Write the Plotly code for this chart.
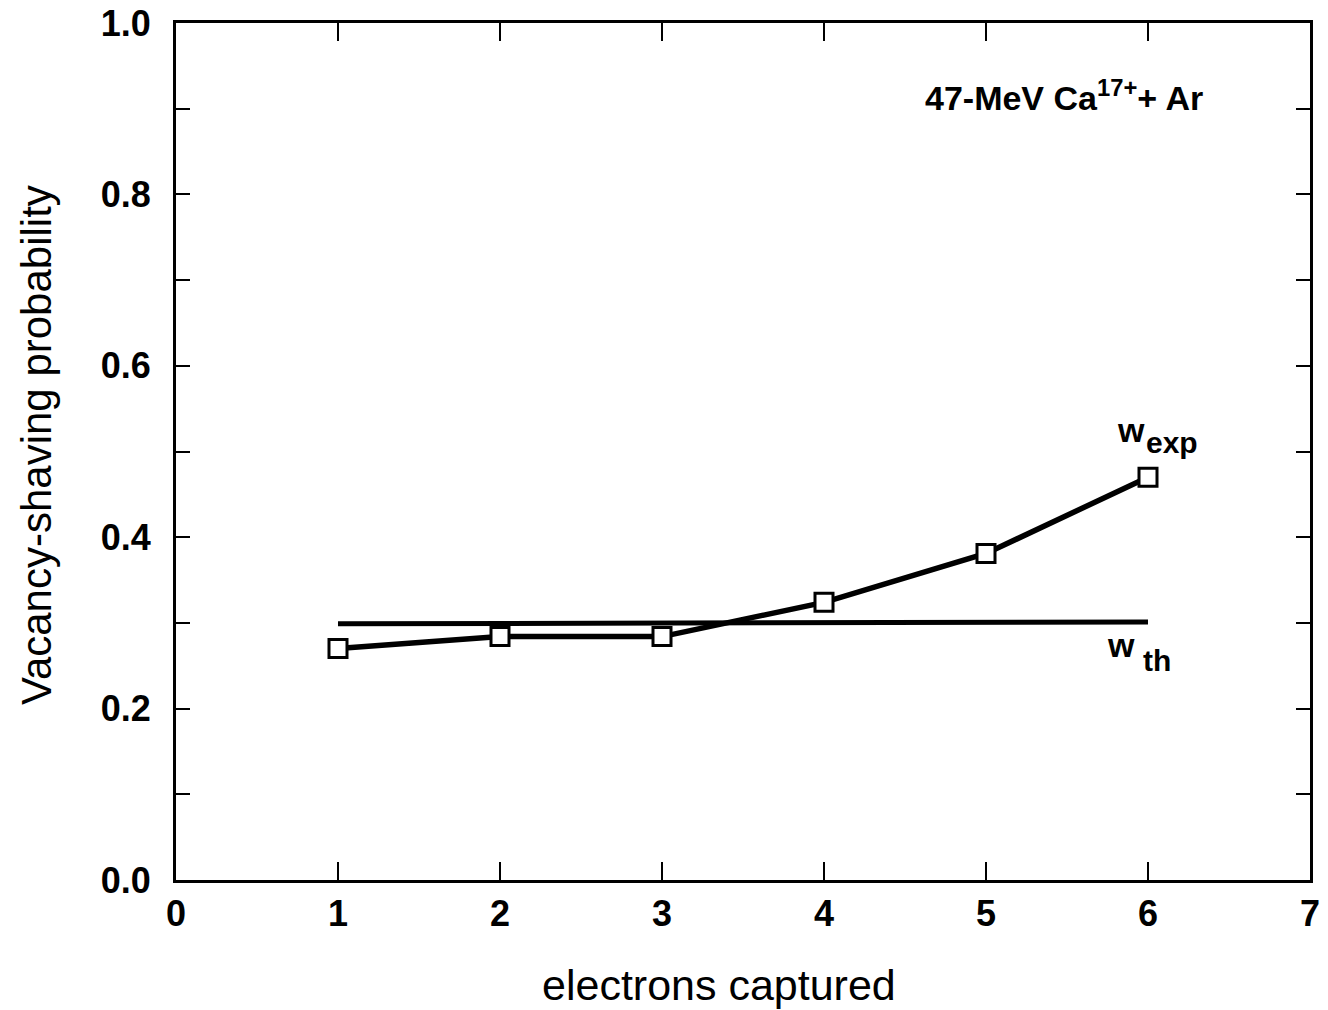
import plotly.graph_objects as go

# electrons captured (x) and vacancy-shaving probabilities
electrons = [1, 2, 3, 4, 5, 6]
w_exp = [0.270, 0.284, 0.284, 0.324, 0.381, 0.470]
w_th_x = [1, 6]
w_th = [0.299, 0.301]

x_ticks = [0, 1, 2, 3, 4, 5, 6, 7]
y_ticks = [0.0, 0.1, 0.2, 0.3, 0.4, 0.5, 0.6, 0.7, 0.8, 0.9, 1.0]
y_labels = ["0.0", "", "0.2", "", "0.4", "", "0.6", "", "0.8", "", "1.0"]

FONT = "Liberation Sans, Arial, Helvetica, sans-serif"

fig = go.Figure()

fig.add_trace(go.Scatter(
    x=w_th_x, y=w_th, mode="lines",
    line=dict(color="black", width=5),
    showlegend=False,
))

fig.add_trace(go.Scatter(
    x=electrons, y=w_exp, mode="lines+markers",
    line=dict(color="black", width=5.5),
    marker=dict(symbol="square", size=18, color="white",
                line=dict(color="black", width=3)),
    showlegend=False,
))

axis_common = dict(
    showgrid=False, zeroline=False, automargin=False,
    showline=True, linecolor="black", linewidth=3,
    mirror="allticks", ticks="inside",
    tickcolor="black", tickwidth=2,
    tickfont=dict(family=FONT, size=36, color="black", weight="bold"),
)

fig.update_xaxes(
    range=[0, 7], tickvals=x_ticks, ticktext=[str(v) for v in x_ticks],
    ticklen=18, ticklabelstandoff=0,
    **axis_common,
)
fig.update_yaxes(
    range=[0, 1], tickvals=y_ticks, ticktext=y_labels,
    ticklen=14, ticklabelstandoff=15,
    **axis_common,
)

# axis titles
fig.add_annotation(x=719, y=1010 - 985, xref="paper", yref="paper",
                   text="electrons captured", showarrow=False,
                   xanchor="center", yanchor="middle",
                   font=dict(family=FONT, size=43, color="black"))
fig.add_annotation(x=36, y=1010 - 445, xref="paper", yref="paper",
                   text="Vacancy-shaving probability", showarrow=False,
                   textangle=-90, xanchor="center", yanchor="middle",
                   font=dict(family=FONT, size=42, color="black"))


def label(x, y, text, size):
    fig.add_annotation(x=x, y=y, xref="x", yref="y", text=text,
                       showarrow=False, xanchor="center", yanchor="middle",
                       font=dict(family=FONT, size=size, color="black",
                                 weight="bold"))


label(5.48, 0.915, "47-MeV Ca<sup>17+</sup>+ Ar", 34)
label(5.895, 0.525, "w", 34)
label(6.15, 0.511, "exp", 30)
label(5.833, 0.274, "w", 34)
label(6.056, 0.256, "th", 30)

fig.update_layout(
    width=1328, height=1010,
    margin=dict(l=176, r=18, t=23, b=130),
    paper_bgcolor="white", plot_bgcolor="white",
    font=dict(family=FONT, color="black"),
)

# place the axis-title annotations in pixel units of the whole page
plot_w = 1328 - 176 - 18
plot_h = 1010 - 23 - 130
for ann in fig.layout.annotations:
    if ann.xref == "paper":
        ann.x = (ann.x - 176) / plot_w
        ann.y = (ann.y - 130) / plot_h

fig.write_html("out.html")
